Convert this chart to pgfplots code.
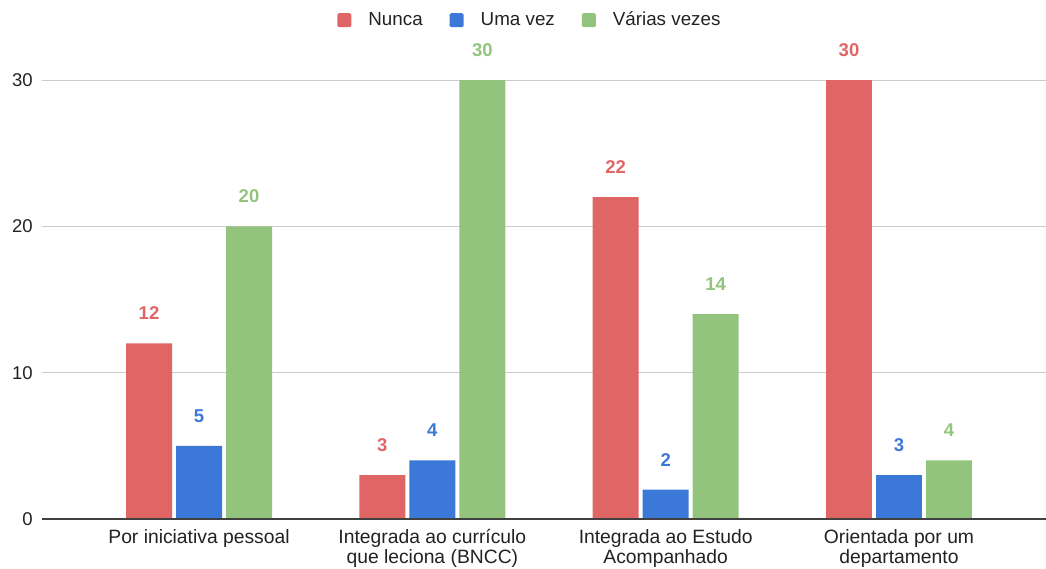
\documentclass[border=0pt]{standalone}
\usepackage{pgfplots}
\pgfplotsset{compat=1.18}
\usepackage{fontspec}
\setmainfont{Liberation Sans}
\definecolor{cred}{HTML}{E06666}
\definecolor{cblue}{HTML}{3C78D8}
\definecolor{cgreen}{HTML}{93C47D}
\definecolor{ctext}{HTML}{222222}
\definecolor{cgrid}{HTML}{CCCCCC}
\begin{document}
\fontsize{18.5bp}{22bp}\selectfont
\begin{tikzpicture}
\begin{axis}[
  scale only axis,
  width=1004bp, height=519bp,
  xmin=-0.673, xmax=3.630,
  ymin=0, ymax=35.47,
  clip=false,
  axis line style={draw=none},
  ytick={0,10,20,30},
  ymajorgrids,
  grid style={cgrid, line width=1bp},
  major tick length=0pt,
  xtick={0,1,2,3},
  xticklabels={{Por iniciativa pessoal},{Integrada ao currículo\\que leciona (BNCC)},{Integrada ao Estudo\\Acompanhado},{Orientada por um\\departamento}},
  xticklabel style={align=center, anchor=north, yshift=-4bp, text=ctext, font=\fontsize{19.3bp}{20bp}\selectfont},
  yticklabel style={text=ctext, xshift=-3bp},
  /pgf/number format/assume math mode=true,
  bar width=0.197,
  ybar,
  nodes near coords,
  every node near coord/.append style={font=\bfseries\fontsize{18.5bp}{22bp}\selectfont, anchor=center, yshift=30bp},
  legend style={at={(0.486,0.961)}, anchor=center, draw=none, fill=none, legend columns=3,
    /tikz/every even column/.append style={column sep=25bp},
    font=\fontsize{18.8bp}{22bp}\selectfont, text=ctext},
  legend image code/.code={\fill[#1, draw=none, rounded corners=1.5bp] (0bp,-7bp) rectangle (14bp,7bp); \path[draw=none, fill=none] (14bp,0bp) -- (29bp,0bp);},
]
\addplot[fill=cred, draw=none, bar shift=-0.2143, every node near coord/.append style={text=cred}] coordinates {(0,12) (1,3) (2,22) (3,30)};
\addplot[fill=cblue, draw=none, bar shift=0, every node near coord/.append style={text=cblue}] coordinates {(0,5) (1,4) (2,2) (3,3)};
\addplot[fill=cgreen, draw=none, bar shift=0.2143, every node near coord/.append style={text=cgreen}] coordinates {(0,20) (1,30) (2,14) (3,4)};
\legend{Nunca, Uma vez, Várias vezes}
\draw[color=black!75, line width=1.2bp] (axis cs:-0.673,0) -- (axis cs:3.630,0);
\end{axis}
\pgfresetboundingbox
\path[use as bounding box] ([shift={(-42bp,-50bp)}]current axis.south west) rectangle (current axis.north east);
\end{tikzpicture}
\end{document}
